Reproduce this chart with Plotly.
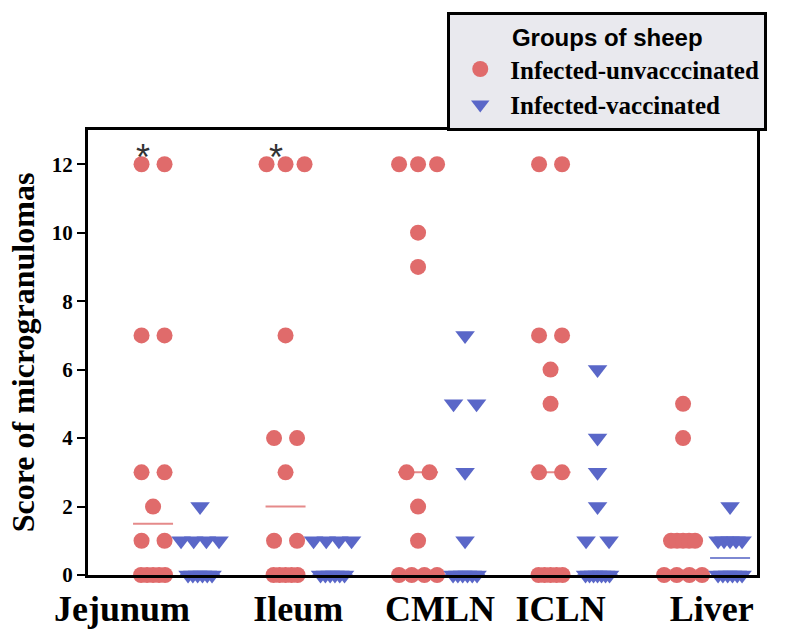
import plotly.graph_objects as go
import numpy as np
from collections import Counter

# ---------------- data ----------------
tissues = ["Jejunum", "Ileum", "CMLN", "ICLN", "Liver"]
unvaccinated = {
    "Jejunum": [12, 12, 7, 7, 3, 3, 2, 1, 1, 0, 0, 0, 0, 0],
    "Ileum":   [12, 12, 12, 7, 4, 4, 3, 1, 1, 0, 0, 0, 0, 0],
    "CMLN":    [12, 12, 12, 10, 9, 3, 3, 2, 1, 0, 0, 0, 0],
    "ICLN":    [12, 12, 7, 7, 6, 5, 3, 3, 0, 0, 0, 0, 0],
    "Liver":   [5, 4, 1, 1, 1, 1, 1, 0, 0, 0, 0],
}
vaccinated = {
    "Jejunum": [2, 1, 1, 1, 1, 0, 0, 0, 0, 0, 0],
    "Ileum":   [1, 1, 1, 1, 0, 0, 0, 0, 0, 0],
    "CMLN":    [7, 5, 5, 3, 1, 0, 0, 0, 0, 0, 0],
    "ICLN":    [6, 4, 3, 2, 1, 1, 0, 0, 0, 0, 0, 0, 0],
    "Liver":   [2, 1, 1, 1, 1, 1, 0, 0, 0, 0, 0, 0],
}
significant = ["Jejunum", "Ileum"]
y_ticks = [0, 2, 4, 6, 8, 10, 12]

# ---------------- layout helpers ----------------
PX = 132.5            # pixels per category unit
RED = "#e06b6b"
BLUE = "#5a67c8"
RED_LINE = "#e58a8a"
BLUE_LINE = "#7d88d2"

def spread(n):
    if n == 1:
        return [0.0]
    if n <= 4:
        span = min(23 * (n - 1), 38)
    else:
        span = 24
    return list(np.linspace(-span / 2, span / 2, n) / PX)

def positions(values, center):
    xs, ys = [], []
    counts = Counter(values)
    for v in sorted(counts, reverse=True):
        for off in spread(counts[v]):
            xs.append(center + off)
            ys.append(v)
    return xs, ys

fig = go.Figure()
groups = [
    ("Infected-unvacccinated", unvaccinated, -22 / PX, RED, RED_LINE, "circle", 16),
    ("Infected-vaccinated", vaccinated, 25 / PX, BLUE, BLUE_LINE, "triangle-down", 17),
]
for name, data, off, col, lcol, sym, size in groups:
    for i, t in enumerate(tissues):
        med = float(np.median(data[t]))
        c = i + off
        fig.add_trace(go.Scatter(
            x=[c - 20 / PX, c + 20 / PX], y=[med, med], mode="lines",
            line=dict(color=lcol, width=2), showlegend=False,
            hoverinfo="skip", cliponaxis=False))
for name, data, off, col, lcol, sym, size in groups:
    xs, ys = [], []
    for i, t in enumerate(tissues):
        x, y = positions(data[t], i + off)
        xs += x
        ys += y
    fig.add_trace(go.Scatter(
        x=xs, y=ys, mode="markers", name=name, cliponaxis=False,
        marker=dict(symbol=sym, size=size, color=col, line=dict(width=0))))

for t in significant:
    i = tissues.index(t)
    fig.add_annotation(x=i - 0.24, y=12.2, text="*", showarrow=False,
                       font=dict(family="Liberation Sans", size=36, color="#333333"),
                       yanchor="middle")

label_pos = [-0.40, 0.93, 2.0, 2.91, 4.05]

fig.update_layout(
    width=803, height=632,
    margin=dict(l=88, r=46, t=130, b=57),
    paper_bgcolor="white", plot_bgcolor="white",
    xaxis=dict(range=[-0.657, 4.392], showgrid=False, zeroline=False,
               showline=True, linecolor="black", linewidth=3, mirror=True,
               ticks="", tickvals=label_pos, ticktext=tissues, automargin=False,
               tickfont=dict(family="Liberation Serif", size=36, color="black", weight="bold")),
    yaxis=dict(range=[0, 13], showgrid=False, zeroline=False,
               showline=True, linecolor="black", linewidth=3, mirror=True,
               ticks="outside", ticklen=8, tickwidth=2, tickcolor="black",
               tickvals=y_ticks, automargin=False,
               tickfont=dict(family="Liberation Serif", size=21, color="black", weight="bold"),
               title=dict(text="Score of microgranulomas", standoff=8,
                          font=dict(family="Liberation Serif", size=32, color="black", weight="bold"))),
    legend=dict(x=0.537, y=1.265, xanchor="left", yanchor="top",
                bgcolor="#e9e9ee", bordercolor="black", borderwidth=3,
                itemwidth=50,
                font=dict(family="Liberation Serif", size=25, color="black", weight="bold"),
                title=dict(text="Groups of sheep", side="top center",
                           font=dict(family="Liberation Sans", size=24, color="black", weight="bold")),
                tracegroupgap=0),
)

fig.write_html("out.html")
